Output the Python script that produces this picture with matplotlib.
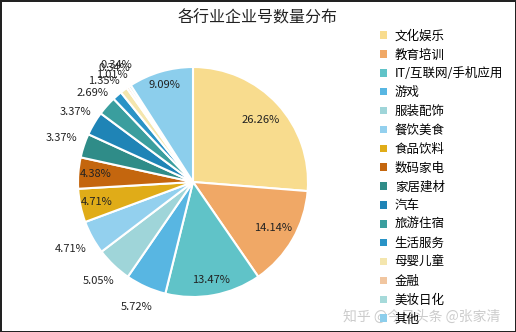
import matplotlib.pyplot as plt
from matplotlib.patches import Patch
import numpy as np

plt.rcParams['font.family'] = ['Noto Sans CJK SC', 'DejaVu Sans']

categories = ['文化娱乐', '教育培训', 'IT/互联网/手机应用', '游戏', '服装配饰', '餐饮美食',
              '食品饮料', '数码家电', '家居建材', '汽车', '旅游住宿', '生活服务',
              '母婴儿童', '金融', '美妆日化', '其他']
shares = [26.26, 14.14, 13.47, 5.72, 5.05, 4.71, 4.71, 4.38, 3.37, 3.37, 2.69, 1.35,
          1.01, 0.34, 0.34, 9.09]
colors = ['#F8DC8E', '#F0A866', '#60C3C8', '#58B6E2', '#9FD5D9', '#93D0EE',
          '#E0AC18', '#C4660E', '#2F8C88', '#1F84B6', '#3A9E9E', '#2993C6',
          '#F4E6AE', '#F1C6A0', '#A6DADA', '#8CCEEC']
# where each percent label sits, as a fraction of the radius
label_dist = [0.8, 0.8, 0.87, 1.19, 1.19, 1.21, 0.86, 0.85, 1.21, 1.19, 1.17, 1.17,
              1.17, 1.2, 1.22, 0.88]

fig = plt.figure(figsize=(5.16, 3.32), dpi=100)
fig.patch.set_edgecolor('#222222')
fig.patch.set_linewidth(2)

R = 115
ax = fig.add_axes([(193 - R * 1.25) / 516, (332 - 182 - R * 1.25) / 332,
                   2 * R * 1.25 / 516, 2 * R * 1.25 / 332])
wedges, _ = ax.pie(shares, colors=colors, startangle=90, counterclock=False,
                   wedgeprops=dict(edgecolor='white', linewidth=1.5))
ax.set_xlim(-1.25, 1.25)
ax.set_ylim(-1.25, 1.25)

for w, v, d in zip(wedges, shares, label_dist):
    ang = np.deg2rad((w.theta1 + w.theta2) / 2)
    ax.text(d * np.cos(ang), d * np.sin(ang), f'{v:.2f}%', ha='center', va='center',
            fontsize=8, color='#222222')

fig.text(0.5, 0.945, '各行业企业号数量分布', ha='center', va='center', fontsize=11.5,
         color='#222222')

handles = [Patch(facecolor=c, edgecolor='none') for c in colors]
fig.legend(handles, categories, loc='upper left', bbox_to_anchor=(0.725, 0.93),
           frameon=False, fontsize=9, handlelength=0.55, handleheight=0.55,
           handletextpad=0.6, labelspacing=0.47, borderpad=0)

fig.text(0.97, 0.045, '知乎 @今日头条 @张家清', ha='right', va='center', fontsize=10,
         color='#999999', alpha=0.5)

fig.savefig('out.png', dpi=100)
